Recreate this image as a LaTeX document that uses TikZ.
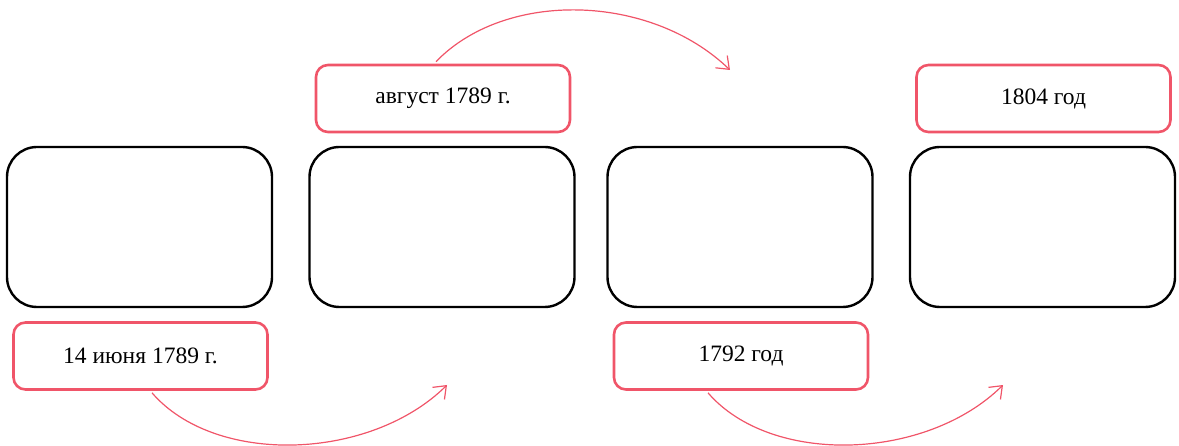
\documentclass[tikz,border=0pt]{standalone}
\usepackage{fontspec}
\setmainfont{Liberation Serif}
\usetikzlibrary{arrows.meta}
\definecolor{pinkred}{RGB}{240,85,105}
\tikzset{
  blackbox/.style={draw=black, line width=2.4pt, rounded corners=30pt, minimum width=265pt, minimum height=160pt, inner sep=0pt},
  datebox/.style={draw=pinkred, line width=2.6pt, rounded corners=12pt, minimum width=254pt, minimum height=67pt, inner sep=0pt, font=\fontsize{23.5}{28}\selectfont},
  flow/.style={draw=pinkred, line width=1.2pt, -{Straight Barb[length=11pt,width=17pt,line width=1.2pt]}}
}
\begin{document}
\begin{tikzpicture}[x=1pt,y=-1pt]
\useasboundingbox (0,0) rectangle (1179,446);
\node[blackbox] (b1) at (139.5,227) {};
\node[blackbox] (b2) at (442,227) {};
\node[blackbox] (b3) at (740,227) {};
\node[blackbox] (b4) at (1042.5,227) {};
\node[datebox] (d1) at (140.5,356) {14 июня 1789 г.};
\node[datebox] (d2) at (443,98.5) {август 1789 г.};
\node[datebox] (d3) at (741,356) {1792 год};
\node[datebox] (d4) at (1043.5,98.5) {1804 год};
\coordinate (e1) at (447,385);
\coordinate (e2) at (730,70);
\coordinate (e3) at (1003,385);
\draw[flow] ([xshift=11.5pt,yshift=-2pt]d1.south) .. controls (215,466) and (370,461) .. (e1);
\draw[flow] ([xshift=-7pt,yshift=2pt]d2.north) .. controls (505,-10) and (650,-7) .. (e2);
\draw[flow] ([xshift=-33pt,yshift=-2pt]d3.south) .. controls (771,466) and (926,461) .. (e3);
\end{tikzpicture}
\end{document}
